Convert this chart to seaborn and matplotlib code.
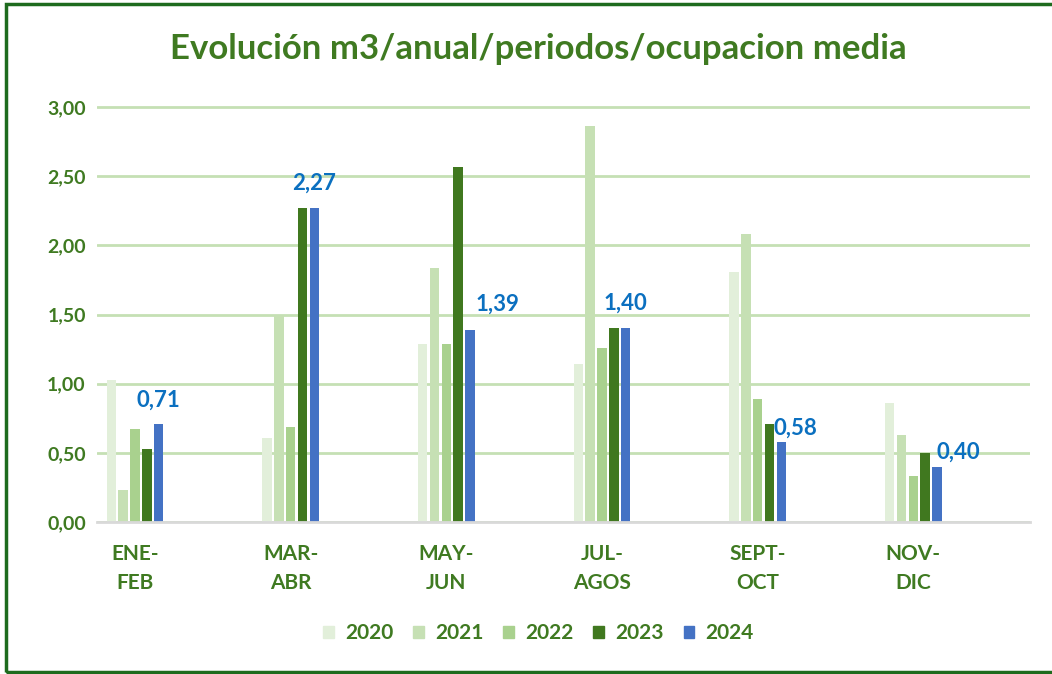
# Gráfico de barras: evolución m3 por periodo y año
import pandas as pd
import matplotlib.pyplot as plt
import matplotlib.patches as mpatches
import seaborn as sns

# Datos
periodos = ['ENE-\nFEB', 'MAR-\nABR', 'MAY-\nJUN', 'JUL-\nAGOS', 'SEPT-\nOCT', 'NOV-\nDIC']
anios = ['2020', '2021', '2022', '2023', '2024']
v2020 = [1.03, 0.61, 1.29, 1.14, 1.81, 0.86]
v2021 = [0.23, 1.49, 1.84, 2.86, 2.08, 0.63]
v2022 = [0.67, 0.69, 1.29, 1.26, 0.89, 0.33]
v2023 = [0.53, 2.27, 2.57, 1.40, 0.71, 0.50]
v2024 = [0.71, 2.27, 1.39, 1.40, 0.58, 0.40]
yticks = [0.0, 0.5, 1.0, 1.5, 2.0, 2.5, 3.0]

colores = ['#e2efda', '#c6e0b4', '#a9d18e', '#40781f', '#4472c4']
verde = '#3f7a21'
azul = '#0b70c0'

df = pd.DataFrame({
    'periodo': periodos * 5,
    'anio': [a for a in anios for _ in periodos],
    'valor': v2020 + v2021 + v2022 + v2023 + v2024,
})

sns.set_style('white')
plt.rcParams['font.family'] = ['Lato', 'DejaVu Sans']

fig = plt.figure(figsize=(10.52, 6.74), dpi=100)
ax = fig.add_axes([97 / 1052, 1 - 522 / 674, 933 / 1052, 417 / 674])

sns.barplot(data=df, x='periodo', y='valor', hue='anio', hue_order=anios,
            palette=colores, width=0.38, gap=0.2, ax=ax, legend=False,
            saturation=1, linewidth=0)

ax.set_xlim(-0.244, 5.75)
ax.set_ylim(0, 3.015)
ax.set_yticks(yticks)
ax.set_yticklabels([f'{t:.2f}'.replace('.', ',') for t in yticks])
ax.grid(axis='y', color='#c5e0b4', linewidth=2)
ax.set_axisbelow(True)
for s in ['top', 'right', 'left']:
    ax.spines[s].set_visible(False)
ax.spines['bottom'].set_color('#d9d9d9')
ax.spines['bottom'].set_linewidth(2)
ax.tick_params(axis='both', length=0, colors=verde)
ax.tick_params(axis='y', pad=8, labelsize=14)
ax.tick_params(axis='x', pad=16, labelsize=15)
for t in ax.get_xticklabels() + ax.get_yticklabels():
    t.set_fontweight('bold')
    t.set_linespacing(1.55)
ax.set_xlabel('')
ax.set_ylabel('')

# Etiquetas de datos solo para 2024 (desplazamientos en píxeles)
desplaz = [(0, 24), (0, 25), (28, 26), (0, 25), (14, 14), (21, 14)]
for barra, val, (dx, dy) in zip(ax.containers[4], v2024, desplaz):
    xc = barra.get_x() + barra.get_width() / 2
    ax.annotate(f'{val:.2f}'.replace('.', ','), (xc, barra.get_height()),
                xytext=(dx * 0.72, dy * 0.72), textcoords='offset points',
                ha='center', va='center', color=azul, fontsize=16,
                fontweight='bold')

fig.suptitle('Evolución m3/anual/periodos/ocupacion media', x=0.512, y=1 - 49 / 674,
             va='center', fontsize=25, fontweight='bold', color=verde)

handles = [mpatches.Patch(color=c, label=a) for c, a in zip(colores, anios)]
leg = fig.legend(handles=handles, loc='center', bbox_to_anchor=(0.512, 1 - 633 / 674),
                 ncol=5, frameon=False, handlelength=0.5, handleheight=0.5,
                 handletextpad=0.55, columnspacing=0.95, fontsize=15)
for t in leg.get_texts():
    t.set_color(verde)
    t.set_fontweight('bold')

# Marco verde del gráfico (sin lado derecho visible)
fig.patches.append(mpatches.Rectangle((6 / 1052, 2 / 674), 1.1, 668 / 674,
                                      transform=fig.transFigure, fill=False,
                                      edgecolor='#1e6b1e', linewidth=2.5,
                                      clip_on=False))

plt.savefig('out.png', dpi=100)
